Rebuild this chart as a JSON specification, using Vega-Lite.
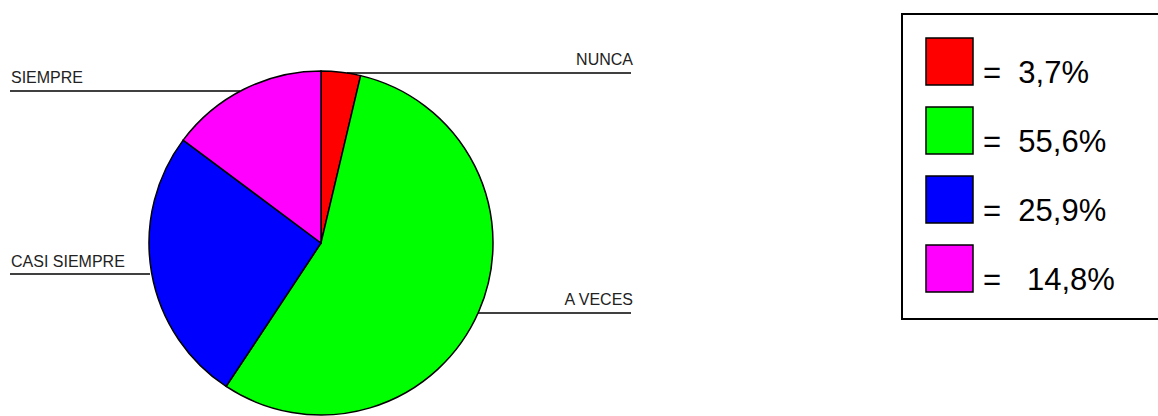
{
  "$schema": "https://vega.github.io/schema/vega-lite/v6.json",
  "width": 642,
  "height": 486,
  "autosize": {"type": "none"},
  "padding": {"left": 0, "top": 0, "right": 516, "bottom": 0},
  "background": "white",
  "config": {"view": {"stroke": null}, "font": "Liberation Sans"},
  "datasets": {
    "respuestas": [
      {"categoria": "NUNCA", "porcentaje": 3.7, "orden": 1},
      {"categoria": "A VECES", "porcentaje": 55.6, "orden": 2},
      {"categoria": "CASI SIEMPRE", "porcentaje": 25.9, "orden": 3},
      {"categoria": "SIEMPRE", "porcentaje": 14.8, "orden": 4}
    ],
    "rotulos": [
      {"etiqueta": "NUNCA", "tx": 633, "ty": 65, "xini": 347, "xfin": 631, "ylinea": 73, "lado": "derecha"},
      {"etiqueta": "A VECES", "tx": 633, "ty": 305, "xini": 478, "xfin": 631, "ylinea": 313, "lado": "derecha"},
      {"etiqueta": "CASI SIEMPRE", "tx": 11, "ty": 267, "xini": 10, "xfin": 150, "ylinea": 274, "lado": "izquierda"},
      {"etiqueta": "SIEMPRE", "tx": 11, "ty": 83, "xini": 10, "xfin": 240, "ylinea": 91, "lado": "izquierda"}
    ]
  },
  "layer": [
    {
      "data": {"name": "respuestas"},
      "mark": {"type": "arc", "outerRadius": 172, "stroke": "black", "strokeWidth": 1.5},
      "encoding": {
        "theta": {"field": "porcentaje", "type": "quantitative", "stack": true},
        "order": {"field": "orden", "type": "quantitative"},
        "color": {
          "field": "categoria",
          "type": "nominal",
          "scale": {
            "domain": ["NUNCA", "A VECES", "CASI SIEMPRE", "SIEMPRE"],
            "range": ["#ff0000", "#00ff00", "#0000ff", "#ff00ff"]
          },
          "legend": {
            "orient": "none",
            "legendX": 902,
            "legendY": 14,
            "title": "MM",
            "titleOrient": "right",
            "titleFontSize": 15,
            "titleOpacity": 0,
            "titlePadding": 0,
            "symbolType": "square",
            "symbolSize": 2209,
            "symbolStrokeColor": "black",
            "symbolStrokeWidth": 1.5,
            "symbolOpacity": 1,
            "labelFont": "Liberation Sans",
            "labelFontSize": 31,
            "labelColor": "black",
            "labelBaseline": "middle",
            "labelOffset": 9,
            "labelLimit": 500,
            "rowPadding": 15,
            "padding": 23,
            "strokeColor": "black",
            "fillColor": "white",
            "labelExpr": "datum.label == 'NUNCA' ? '=\u00a0\u00a03,7%' : datum.label == 'A VECES' ? '=\u00a0\u00a055,6%' : datum.label == 'CASI SIEMPRE' ? '=\u00a0\u00a025,9%' : '=\u00a0\u00a0\u00a014,8%'",
            "encode": {
              "labels": {"update": {"dy": {"value": 12}}},
              "legend": {"update": {"strokeWidth": {"value": 2}}}
            }
          }
        }
      }
    },
    {
      "data": {"name": "rotulos"},
      "mark": {"type": "rule", "color": "black", "strokeWidth": 1.5},
      "encoding": {
        "x": {"field": "xini", "type": "quantitative", "scale": {"domain": [0, 642], "nice": false, "zero": false}, "axis": null},
        "x2": {"field": "xfin"},
        "y": {"field": "ylinea", "type": "quantitative", "scale": {"domain": [0, 486], "nice": false, "reverse": true}, "axis": null}
      }
    },
    {
      "data": {"name": "rotulos"},
      "transform": [{"filter": "datum.lado == 'izquierda'"}],
      "mark": {"type": "text", "align": "left", "baseline": "alphabetic", "fontSize": 16, "color": "#222222"},
      "encoding": {
        "x": {"field": "tx", "type": "quantitative"},
        "y": {"field": "ty", "type": "quantitative"},
        "text": {"field": "etiqueta"}
      }
    },
    {
      "data": {"name": "rotulos"},
      "transform": [{"filter": "datum.lado == 'derecha'"}],
      "mark": {"type": "text", "align": "right", "baseline": "alphabetic", "fontSize": 16, "color": "#222222"},
      "encoding": {
        "x": {"field": "tx", "type": "quantitative"},
        "y": {"field": "ty", "type": "quantitative"},
        "text": {"field": "etiqueta"}
      }
    }
  ]
}
